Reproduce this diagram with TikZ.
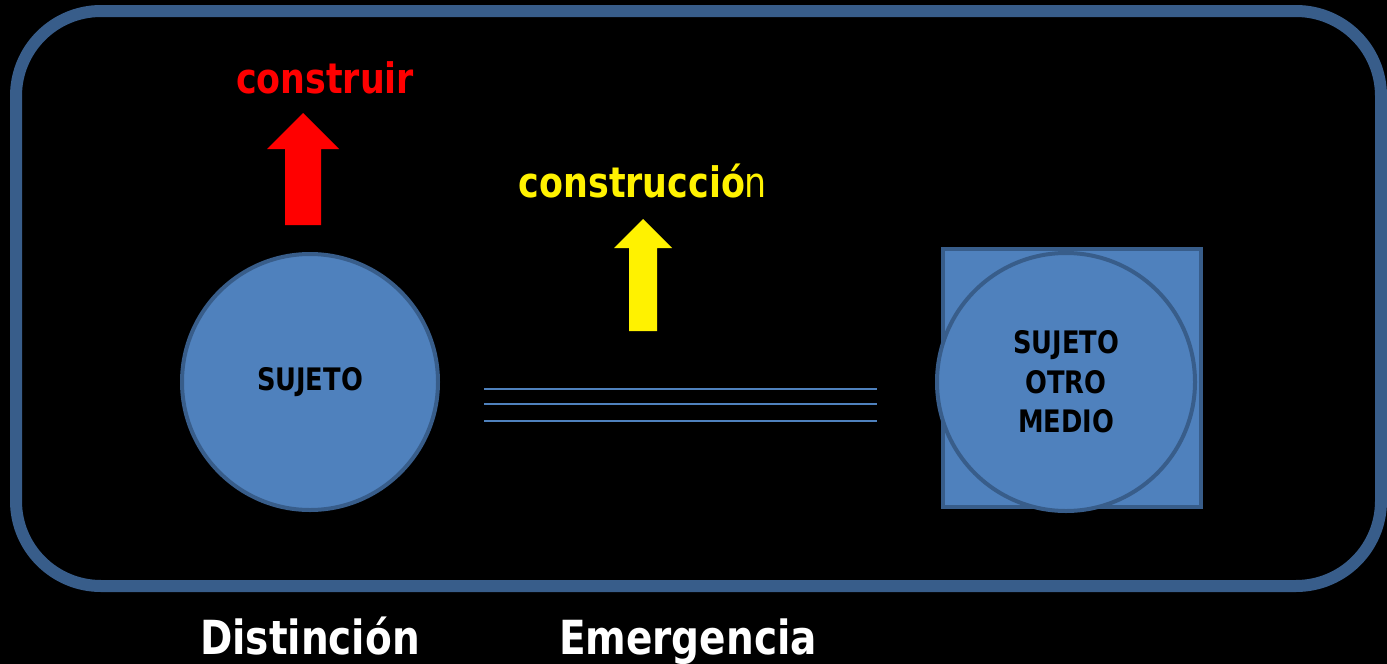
\documentclass[tikz,border=0pt]{standalone}
\usepackage{fontspec}
\setmainfont[FakeStretch=0.83]{DejaVu Sans}
\usetikzlibrary{positioning}
\definecolor{sujetofill}{HTML}{4F81BD}
\definecolor{sujetoline}{HTML}{385D8A}
\tikzset{
	sujeto/.style={circle, fill=sujetofill, draw=sujetoline, line width=4pt, inner sep=0pt, font=\bfseries\fontsize{31}{39.5}\selectfont, align=center},
	medio/.style={rectangle, fill=sujetofill, draw=sujetoline, line width=4pt, inner sep=0pt, minimum width=258pt, minimum height=258pt},
	palabra/.style={anchor=base, inner sep=0pt, font=\bfseries\fontsize{42}{42}\selectfont},
	pie/.style={anchor=base, inner sep=0pt, text=white, font=\bfseries\fontsize{47}{47}\selectfont}
}

\begin{document}
\begin{tikzpicture}[x=1pt,y=-1pt]
	\fill[black] (0,0) rectangle (1387,664);
	\useasboundingbox (0,0) rectangle (1387,664);
	\draw[sujetoline, line width=12pt, rounded corners=85pt] (16,11) rectangle (1381,586);
	\node[sujeto, minimum size=256pt] (sujeto) at (310,382) {SUJETO};
	\node[medio] (caja) at (1072,378) {};
	\node[sujeto, minimum size=258pt] (otro) at (1066,382) {SUJETO\\OTRO\\MEDIO};
	\foreach \y in {389,404,421}
		\draw[sujetofill, line width=2.5pt] (484,\y) -- (877,\y);
	\foreach \col/\cx/\tip/\base/\bot/\hw/\sw in {red/303/113/149/225/36/18,yellow/643/219/248/331/29/14}
		\fill[\col] (\cx-\sw,\bot) -- (\cx-\sw,\base) -- (\cx-\hw,\base) -- (\cx,\tip) -- (\cx+\hw,\base) -- (\cx+\sw,\base) -- (\cx+\sw,\bot) -- cycle;
	\node[palabra, text=red] (construir) at (325,93) {construir};
	\node[palabra, text=yellow] (construccion) at (643,197) {construcció\textmd{n}};
	\node[pie] (distincion) at (310,654) {Distinción};
	\node[pie] (emergencia) at (688,654) {Emergencia};
\end{tikzpicture}
\end{document}
